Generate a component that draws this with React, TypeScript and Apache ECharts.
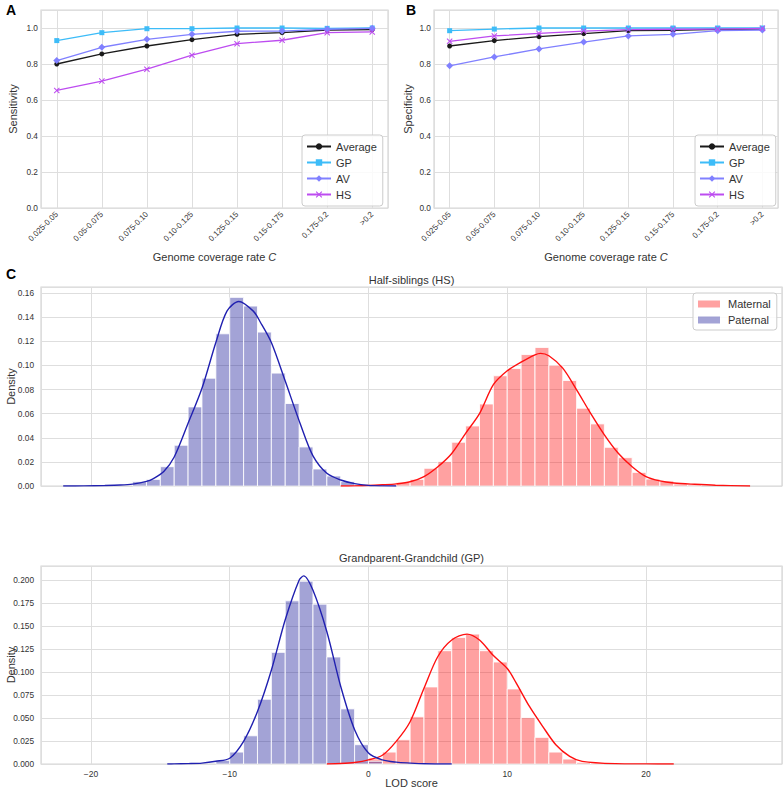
import React, { useEffect, useRef } from 'react';
import * as echarts from 'echarts';

// ---------- Panel A / B data ----------
const categories = ['0.025-0.05', '0.05-0.075', '0.075-0.10', '0.10-0.125', '0.125-0.15', '0.15-0.175', '0.175-0.2', '>0.2'];

const sensAverage = [0.8, 0.856, 0.9, 0.935, 0.965, 0.974, 0.989, 0.991];
const sensGP = [0.93, 0.974, 0.996, 0.996, 1.0, 1.0, 0.998, 1.0];
const sensAV = [0.819, 0.893, 0.937, 0.965, 0.982, 0.983, 0.993, 0.998];
const sensHS = [0.653, 0.705, 0.771, 0.849, 0.913, 0.932, 0.974, 0.978];

const specAverage = [0.9, 0.93, 0.952, 0.969, 0.985, 0.987, 0.993, 0.994];
const specGP = [0.985, 0.994, 1.0, 1.0, 1.0, 1.0, 1.0, 1.0];
const specAV = [0.79, 0.839, 0.884, 0.922, 0.956, 0.965, 0.985, 0.989];
const specHS = [0.926, 0.956, 0.97, 0.983, 0.991, 0.993, 0.994, 0.998];

// ---------- Panel C data (histograms: bin left edges + densities) ----------
const binWidth = 1;

const hsPatEdges = [-17, -16, -15, -14, -13, -12, -11, -10, -9, -8, -7, -6, -5, -4, -3, -2, -1];
const hsPatDensity = [0.0036, 0.0055, 0.016, 0.0338, 0.0656, 0.0894, 0.1262, 0.1564, 0.1492, 0.1276, 0.0936, 0.0684, 0.0324, 0.0141, 0.0083, 0.0036, 0.001];

const hsMatEdges = [-2, -1, 0, 1, 2, 3, 4, 5, 6, 7, 8, 9, 10, 11, 12, 13, 14, 15, 16, 17, 18, 19, 20, 21, 22, 23];
const hsMatDensity = [0.0005, 0.0008, 0.001, 0.0015, 0.003, 0.0055, 0.0147, 0.0202, 0.0363, 0.0498, 0.068, 0.0914, 0.0975, 0.109, 0.1149, 0.1002, 0.0875, 0.0645, 0.0515, 0.0321, 0.0235, 0.0113, 0.0058, 0.0042, 0.0017, 0.001];

const gpPatEdges = [-11, -10, -9, -8, -7, -6, -5, -4, -3, -2, -1, 0];
const gpPatDensity = [0.004, 0.013, 0.0307, 0.0705, 0.1215, 0.1776, 0.199, 0.174, 0.1165, 0.06, 0.021, 0.003];

const gpMatEdges = [-2, -1, 0, 1, 2, 3, 4, 5, 6, 7, 8, 9, 10, 11, 12, 13, 14, 15, 16];
const gpMatDensity = [0.0008, 0.002, 0.0055, 0.013, 0.0264, 0.0514, 0.0839, 0.1233, 0.1378, 0.1414, 0.1233, 0.111, 0.0817, 0.0505, 0.029, 0.013, 0.0054, 0.0018, 0.001];

// KDE curves: [LOD, density]
const hsPatKde = [[-22, 0], [-20.5, 0.0001], [-19, 0.0004], [-17.9, 0.0008], [-17, 0.0016], [-16, 0.0038], [-15.5, 0.0062], [-14.75, 0.012], [-14, 0.024], [-13, 0.052], [-12, 0.081], [-11, 0.119], [-10.2, 0.145], [-9.35, 0.153], [-8.3, 0.145], [-7.8, 0.136], [-7, 0.119], [-6, 0.087], [-4.9, 0.051], [-4, 0.025], [-3, 0.0105], [-2, 0.005], [-1, 0.002], [0, 0.0005], [1, 0.0001], [2, 0]];
const hsMatKde = [[-2, 0], [-1, 0.0001], [0, 0.0004], [1, 0.001], [2, 0.0018], [3, 0.0035], [4, 0.0078], [5, 0.016], [6, 0.027], [7, 0.0437], [8, 0.06], [9, 0.084], [10, 0.0955], [11, 0.1027], [12, 0.1088], [12.4, 0.11], [13, 0.108], [14, 0.0977], [15, 0.0797], [16, 0.0604], [17, 0.0424], [18, 0.0271], [19, 0.016], [20, 0.0078], [21, 0.0042], [22, 0.0025], [23.5, 0.0014], [25, 0.0006], [27.5, 0]];
const gpPatKde = [[-14.5, 0], [-14, 0.0001], [-13, 0.0004], [-12, 0.001], [-11, 0.003], [-10, 0.0063], [-9, 0.0246], [-8, 0.0571], [-7, 0.102], [-6, 0.157], [-5, 0.2], [-4.67, 0.2047], [-4, 0.189], [-3, 0.144], [-2, 0.0843], [-1, 0.0373], [0, 0.0119], [1, 0.0045], [2, 0.002], [3, 0.001], [4, 0.0003], [6, 0]];
const gpMatKde = [[-3, 0], [-2, 0.0005], [-1, 0.0017], [0, 0.0045], [1, 0.0095], [2, 0.0246], [3, 0.046], [4, 0.0825], [5, 0.117], [6, 0.135], [7.1, 0.1414], [8, 0.135], [9, 0.118], [10, 0.104], [10.65, 0.088], [11.6, 0.0626], [12.55, 0.041], [13.5, 0.021], [14.5, 0.0083], [15.4, 0.0029], [17.8, 0.0004], [20, 0.0001], [22, 0]];

const FONT = '"Liberation Sans", Arial, Helvetica, sans-serif';
const TXT = '#333333';
const GRIDC = '#dedede';

const C_AVG = '#1a1a1a';
const C_GP = '#3dbcf8';
const C_AV = '#8080ff';
const C_HS = '#bd4cf0';
const MAT_FILL = 'rgba(255,0,0,0.37)';
const PAT_FILL = 'rgba(0,0,140,0.36)';
const MAT_LINE = '#ff1010';
const PAT_LINE = '#2020b0';

const X_SYMBOL = 'path://M0,1.2L1.2,0L5,3.8L8.8,0L10,1.2L6.2,5L10,8.8L8.8,10L5,6.2L1.2,10L0,8.8L3.8,5Z';

export default function App() {
  const ref = useRef<HTMLDivElement>(null);

  useEffect(() => {
    const chart = echarts.init(ref.current as HTMLDivElement, null, { renderer: 'svg' });

    const grids = [
      { left: 41, top: 10, width: 347, height: 198 },
      { left: 434, top: 10, width: 344, height: 198 },
      { left: 41, top: 287, width: 741, height: 199 },
      { left: 41, top: 566, width: 741, height: 198 },
    ].map((g) => ({
      ...g,
      show: true,
      containLabel: false,
      outerBoundsMode: 'none',
      borderColor: '#d6d6d6',
      borderWidth: 1.2,
      backgroundColor: '#fff',
    }));

    const catFormatter = (v: number) => {
      const r = Math.round(v);
      if (Math.abs(v - r) > 1e-6 || r < 0 || r >= categories.length) return '';
      return categories[r];
    };
    const lodFormatter = (v: number) => {
      const r = Math.round(v);
      if (Math.abs(v - r) > 1e-6 || r % 10 !== 0) return '';
      return r < 0 ? '\u2212' + Math.abs(r) : String(r);
    };
    const splitLine = { show: true, lineStyle: { color: GRIDC, width: 1 } };

    const catAxis = (gi: number) => ({
      type: 'value',
      gridIndex: gi,
      min: -0.35,
      max: 7.35,
      splitNumber: 8,
      axisLine: { show: false },
      axisTick: { show: false },
      splitLine,
      axisLabel: {
        formatter: catFormatter,
        rotate: 45,
        fontSize: 8,
        color: TXT,
        fontFamily: FONT,
        margin: 5,
        showMinLabel: false,
        showMaxLabel: false,
      },
      name: 'Genome coverage rate {i|C}',
      nameLocation: 'middle',
      nameGap: 43,
      nameMoveOverlap: false,
      nameTextStyle: {
        fontSize: 11,
        color: TXT,
        fontFamily: FONT,
        rich: { i: { fontStyle: 'italic', fontSize: 11, color: TXT, fontFamily: FONT } },
      },
    });

    const lodAxis = (gi: number, showLabels: boolean) => ({
      type: 'value',
      gridIndex: gi,
      min: -23.6,
      max: 29.8,
      splitNumber: 5,
      axisLine: { show: false },
      axisTick: { show: false },
      splitLine,
      axisLabel: {
        show: showLabels,
        formatter: lodFormatter,
        fontSize: 8.5,
        color: TXT,
        fontFamily: FONT,
        margin: 5,
        showMinLabel: false,
        showMaxLabel: false,
      },
      name: showLabels ? 'LOD score' : '',
      nameLocation: 'middle',
      nameGap: 13,
      nameMoveOverlap: false,
      nameTextStyle: { fontSize: 11, color: TXT, fontFamily: FONT },
    });

    const yAxis = (gi: number, max: number, interval: number, digits: number, name: string, nameGap: number, margin: number) => ({
      type: 'value',
      gridIndex: gi,
      min: 0,
      max,
      interval,
      axisLine: { show: false },
      axisTick: { show: false },
      splitLine,
      axisLabel: {
        formatter: (v: number) => {
          const k = v / interval;
          if (Math.abs(k - Math.round(k)) > 1e-6) return '';
          return v.toFixed(digits);
        },
        fontSize: 8.3,
        color: TXT,
        fontFamily: FONT,
        margin,
        showMaxLabel: false,
      },
      name,
      nameLocation: 'middle',
      nameGap,
      nameMoveOverlap: false,
      nameTextStyle: { fontSize: 11, color: TXT, fontFamily: FONT },
    });

    const lineSeries = (name: string, values: number[], ai: number, color: string, symbol: string, size: number) => ({
      type: 'line',
      name,
      xAxisIndex: ai,
      yAxisIndex: ai,
      data: values.map((v, i) => [i, v]),
      symbol,
      symbolSize: size,
      showSymbol: true,
      lineStyle: { color, width: 1.3 },
      itemStyle: { color },
      z: 3,
    });

    const histSeries = (name: string, edges: number[], dens: number[], ai: number, fill: string) => ({
      type: 'custom',
      name,
      xAxisIndex: ai,
      yAxisIndex: ai,
      itemStyle: { color: fill },
      encode: { x: 0, y: 1 },
      data: edges.map((e, i) => [e, dens[i]]),
      z: 2,
      renderItem: (params: any, api: any) => {
        const x0 = api.value(0) as number;
        const h = api.value(1) as number;
        const a = api.coord([x0, h]);
        const b = api.coord([x0 + binWidth, 0]);
        return {
          type: 'rect',
          shape: { x: a[0], y: a[1], width: b[0] - a[0], height: b[1] - a[1] },
          style: { fill, stroke: 'rgba(255,255,255,0.85)', lineWidth: 1 },
        };
      },
    });

    const kdeSeries = (name: string, data: number[][], ai: number, color: string) => ({
      type: 'line',
      name,
      xAxisIndex: ai,
      yAxisIndex: ai,
      data,
      symbol: 'none',
      showSymbol: false,
      smooth: 0.3,
      lineStyle: { color, width: 1.4 },
      itemStyle: { color },
      silent: true,
      z: 4,
    });

    const lineLegend = (left: number) => ({
      left,
      top: 135,
      orient: 'vertical',
      data: ['Average', 'GP', 'AV', 'HS'],
      itemWidth: 24,
      itemHeight: 8,
      itemGap: 3,
      padding: [5, 6, 5, 4],
      backgroundColor: 'rgba(255,255,255,0.85)',
      borderColor: '#cccccc',
      borderWidth: 1,
      borderRadius: 3,
      textStyle: { fontSize: 11, color: TXT, fontFamily: FONT, lineHeight: 13 },
      selectedMode: false,
    });

    const option: any = {
      animation: false,
      backgroundColor: '#ffffff',
      grid: grids,
      xAxis: [catAxis(0), catAxis(1), lodAxis(2, false), lodAxis(3, true)],
      yAxis: [
        yAxis(0, 1.1, 0.2, 1, 'Sensitivity', 23, 3),
        yAxis(1, 1.1, 0.2, 1, 'Specificity', 21, 3),
        yAxis(2, 0.165, 0.02, 2, 'Density', 25, 7),
        yAxis(3, 0.2155, 0.025, 3, 'Density', 25, 7),
      ],
      legend: [
        lineLegend(302),
        lineLegend(695),
        {
          left: 693,
          top: 293,
          orient: 'vertical',
          data: [
            { name: 'Maternal', icon: 'rect' },
            { name: 'Paternal', icon: 'rect' },
          ],
          itemWidth: 22,
          itemHeight: 7,
          itemGap: 4,
          padding: [5, 6, 4, 5],
          backgroundColor: 'rgba(255,255,255,0.85)',
          borderColor: '#cccccc',
          borderWidth: 1,
          borderRadius: 3,
          textStyle: { fontSize: 11, color: TXT, fontFamily: FONT, lineHeight: 12, padding: [0, 0, 0, 3] },
          selectedMode: false,
        },
      ],
      series: [
        lineSeries('Average', sensAverage, 0, C_AVG, 'circle', 5),
        lineSeries('GP', sensGP, 0, C_GP, 'rect', 5),
        lineSeries('AV', sensAV, 0, C_AV, 'diamond', 7),
        lineSeries('HS', sensHS, 0, C_HS, X_SYMBOL, 6),
        lineSeries('Average', specAverage, 1, C_AVG, 'circle', 5),
        lineSeries('GP', specGP, 1, C_GP, 'rect', 5),
        lineSeries('AV', specAV, 1, C_AV, 'diamond', 7),
        lineSeries('HS', specHS, 1, C_HS, X_SYMBOL, 6),
        histSeries('Maternal', hsMatEdges, hsMatDensity, 2, MAT_FILL),
        kdeSeries('HS maternal KDE', hsMatKde, 2, MAT_LINE),
        histSeries('Paternal', hsPatEdges, hsPatDensity, 2, PAT_FILL),
        kdeSeries('HS paternal KDE', hsPatKde, 2, PAT_LINE),
        histSeries('Maternal', gpMatEdges, gpMatDensity, 3, MAT_FILL),
        kdeSeries('GP maternal KDE', gpMatKde, 3, MAT_LINE),
        histSeries('Paternal', gpPatEdges, gpPatDensity, 3, PAT_FILL),
        kdeSeries('GP paternal KDE', gpPatKde, 3, PAT_LINE),
      ],
      graphic: [
        { type: 'text', x: 11, y: 9.5, style: { text: 'A', fontSize: 14, fontWeight: 'bold', fontFamily: FONT, fill: '#000', align: 'center', verticalAlign: 'middle' } },
        { type: 'text', x: 411, y: 9.5, style: { text: 'B', fontSize: 14, fontWeight: 'bold', fontFamily: FONT, fill: '#000', align: 'center', verticalAlign: 'middle' } },
        { type: 'text', x: 11, y: 274, style: { text: 'C', fontSize: 14, fontWeight: 'bold', fontFamily: FONT, fill: '#000', align: 'center', verticalAlign: 'middle' } },
        { type: 'text', x: 411.5, y: 280, style: { text: 'Half-siblings (HS)', fontSize: 11, fontFamily: FONT, fill: TXT, align: 'center', verticalAlign: 'middle' } },
        { type: 'text', x: 411.5, y: 558, style: { text: 'Grandparent-Grandchild (GP)', fontSize: 11, fontFamily: FONT, fill: TXT, align: 'center', verticalAlign: 'middle' } },
      ],
    };

    chart.setOption(option);
    return () => chart.dispose();
  }, []);

  return <div ref={ref} style={{ position: 'absolute', left: 0, top: 0, width: 783, height: 790 }} />;
}
